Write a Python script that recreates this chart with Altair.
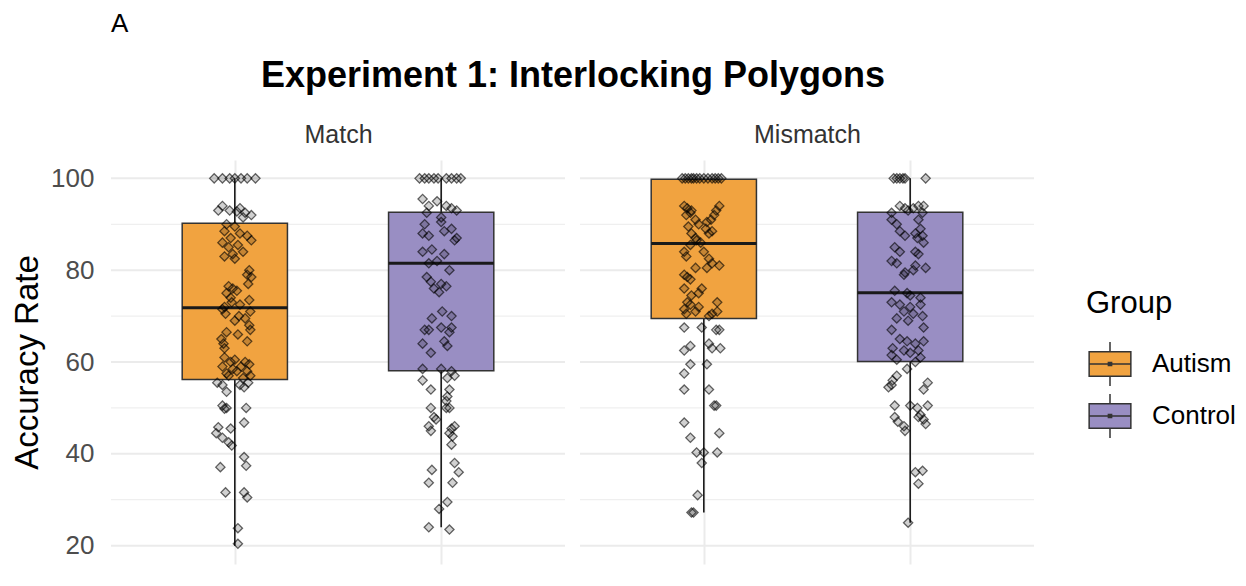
import altair as alt
import pandas as pd

# ---- box statistics ----
box_condition = ["Match", "Match", "Mismatch", "Mismatch"]
box_group = ["Autism", "Control", "Autism", "Control"]
box_lower = [20.0, 24.0, 27.2, 25.0]
box_q1 = [56.2, 58.1, 69.5, 60.1]
box_median = [71.8, 81.5, 85.8, 75.1]
box_q3 = [90.2, 92.6, 99.8, 92.6]
box_upper = [100.0, 100.0, 100.0, 100.0]

# ---- individual participants (value, horizontal jitter in category units) ----
match_autism_values = [
    100, 100, 100, 100, 100, 100, 100,
    94, 93, 93.5, 92.5, 92, 93, 92.8, 91.5,
    90, 89.5, 88.5, 88, 87.5, 87, 86.5, 86, 85.5, 85, 84, 83.5, 83, 82.5,
    80, 79, 78.5, 77,
    76.5, 76, 75.5, 75, 74, 73.5, 73, 72.5, 72, 71.5, 71, 70.5, 70,
    69.5, 69, 68, 67, 66.5, 66, 65, 64.5, 64, 63,
    61, 60.5, 60, 60, 59.5, 59, 59, 58.5, 58, 58, 57.5, 57, 57, 56.5,
    55.5, 55, 55, 55.5, 54.5, 53.5,
    50.5, 50, 50, 49.8,
    46.8,
    45.8, 45.5, 44.5, 43.5, 42.5, 41.8,
    39.3, 37.4, 37.1,
    31.6, 31.6, 30.5,
    23.8, 20.4,
]
match_autism_jitter = [
    -0.10, -0.06, -0.025, 0.0, 0.03, 0.06, 0.10,
    -0.06, -0.025, 0.025, 0.05, 0.08, -0.08, 0.01, 0.04,
    -0.04, 0.0, -0.05, 0.025, 0.06, -0.02, 0.08, -0.06, 0.015, -0.03, 0.04, -0.01, -0.05, 0.0,
    0.07, 0.06, 0.08, 0.065,
    -0.03, -0.01, 0.01, -0.04, -0.02, 0.07, -0.015, 0.025, -0.05, -0.06, 0.075, -0.045, 0.02,
    0.05, 0.0, 0.07, 0.075, -0.04, 0.015, -0.065, 0.06, -0.055, -0.05,
    -0.05, 0.0, 0.05, -0.02, 0.07, -0.06, 0.03, -0.01, 0.06, 0.01, -0.04, 0.075, -0.03, 0.04,
    -0.085, -0.06, 0.025, 0.065, 0.045, -0.04,
    -0.06, -0.04, 0.055, -0.05,
    0.045,
    -0.08, -0.02, -0.09, -0.06, -0.03, -0.015,
    0.045, 0.055, -0.07,
    -0.045, 0.045, 0.06,
    0.015, 0.015,
]

match_control_values = [
    100, 100, 100, 100, 100, 100, 100, 100, 100,
    95.5, 94, 95, 94, 93.5, 93, 92.5, 91.5,
    90, 90.5, 89, 88, 87.5, 88.5, 86.5, 87,
    84, 84.5, 83.5, 82, 81.5,
    80, 78.5, 77.5, 77, 76.5, 76, 75.2,
    71, 70, 69.5,
    67, 67, 67.5, 67.5, 66.5,
    64, 64.5, 63.5,
    62,
    58.5, 58.5, 58, 57,
    56, 56.5,
    54, 54,
    52.5, 51.5,
    50, 50, 50,
    48, 47.5, 46, 45, 46, 45.5, 44.5, 43.8,
    42,
    38, 36.5, 36,
    33.7, 33.7,
    29.5, 28,
    24, 23.5,
]
match_control_jitter = [
    -0.105, -0.08, -0.06, -0.035, -0.015, 0.025, 0.05, 0.075, 0.095,
    -0.09, -0.06, -0.02, 0.025, 0.05, 0.075, -0.07, 0.0,
    -0.08, 0.0, 0.05, -0.09, -0.06, 0.015, 0.065, 0.075,
    -0.09, -0.045, 0.015, -0.02, -0.06,
    0.04, -0.07, -0.05, 0.0, 0.025, -0.035, -0.01,
    0.005, 0.05, -0.045,
    -0.08, -0.06, 0.0, 0.05, 0.04,
    -0.09, 0.015, 0.03,
    -0.05,
    -0.09, 0.0, 0.05, 0.065,
    -0.09, 0.03,
    -0.05, 0.04,
    0.03, 0.025,
    -0.05, 0.025, 0.04,
    -0.035, -0.025, -0.06, -0.05, 0.065, 0.05, 0.04, 0.055,
    0.05,
    0.065, -0.045, 0.085,
    -0.06, 0.055,
    0.03, -0.01,
    -0.06, 0.04,
]

mismatch_autism_values = [
    100, 100, 100, 100, 100, 100, 100, 100, 100, 100, 100, 100, 100,
    94, 93.5, 93, 92, 92.5, 94, 93, 92, 91, 90.5, 91,
    89.5, 90, 89, 88.5, 88,
    88, 87, 86.5, 86, 85.5,
    84, 83, 84, 82.5, 81.5, 80.5, 81, 80.5,
    79, 78.5, 78,
    76, 76, 74.5, 75, 73, 72.5, 71.5, 70.5, 73, 71, 70.5, 70, 71, 72,
    67.5, 67.5, 67, 67,
    62.5, 63.5, 64, 63, 63,
    59.5, 57.5, 59.5,
    54, 54,
    50.5, 50.5,
    46.8,
    43.5, 44.5,
    40.3, 40.3, 40.3,
    38,
    31,
    27.2, 27.2,
]
mismatch_autism_jitter = [
    -0.105, -0.09, -0.075, -0.06, -0.05, -0.035, -0.02, 0.0, 0.02, 0.04, 0.055, 0.07, 0.085,
    -0.095, -0.08, -0.06, -0.085, -0.065, 0.075, 0.06, 0.05, 0.035, 0.015, -0.04,
    -0.075, -0.025, 0.01, 0.04, 0.025,
    -0.06, -0.04, -0.035, -0.015, -0.065,
    -0.095, -0.085, 0.0, 0.025, 0.04, 0.015, 0.075, -0.04,
    -0.095, -0.08, -0.065,
    -0.095, -0.01, -0.06, -0.025, -0.08, -0.065, -0.095, -0.085, 0.065, 0.065, 0.04, 0.025, -0.04, -0.025,
    -0.095, -0.01, 0.06, 0.075,
    -0.095, -0.065, 0.025, 0.04, 0.08,
    -0.065, -0.095, 0.015,
    -0.095, 0.025,
    0.06, 0.05,
    -0.095,
    -0.065, 0.075,
    -0.035, 0.0, 0.065,
    -0.01,
    -0.03,
    -0.06, -0.05,
]

mismatch_control_values = [
    100, 100, 100, 100, 100, 100,
    94, 93.5, 93.5, 94, 94, 92.5, 93, 92.5,
    91, 90, 91, 89, 88.5, 87.5, 88, 87.5, 87,
    86, 85, 84, 84, 83.5, 82, 81.5, 81, 80.5, 79.5, 80,
    79,
    75.5, 75, 74.5, 74, 73, 72.5, 72, 72.5, 71, 70.5, 70, 69.5, 69,
    67, 67.5,
    65, 64.5, 64, 64.5, 63, 62.5, 62, 62.5, 61.5, 61,
    60.5, 60,
    58.5, 57, 56, 55, 54.5, 55.5, 54,
    50.5, 50.5, 50, 50.5,
    48, 47, 46, 45, 48, 47.5, 46.5, 48.5,
    36, 36.3, 33.5,
    25,
]
mismatch_control_jitter = [
    -0.08, -0.065, -0.05, -0.035, -0.025, 0.075,
    -0.05, -0.025, 0.015, 0.04, 0.065, -0.09, -0.01, 0.06,
    -0.09, -0.065, 0.04, 0.05, -0.05, -0.025, 0.025, 0.06, 0.035,
    0.065, -0.075, -0.05, 0.025, 0.04, -0.09, -0.065, 0.025, 0.075, -0.025, 0.015,
    -0.03,
    -0.075, -0.015, 0.0, 0.05, -0.09, -0.05, 0.0, 0.05, -0.03, 0.015, 0.06, -0.065, -0.01,
    -0.09, 0.065,
    -0.05, -0.015, 0.025, 0.065, -0.085, -0.03, 0.0, 0.04, -0.09, 0.05,
    -0.065, 0.025,
    -0.015, -0.065, -0.085, -0.09, -0.105, 0.085, 0.065,
    -0.075, 0.0, 0.035, 0.085,
    -0.075, -0.06, -0.03, -0.025, 0.04, 0.065, 0.075, 0.05,
    0.025, 0.06, 0.04,
    -0.01,
]

conditions = ["Match", "Mismatch"]
group_names = ["Autism", "Control"]
group_colors = ["#F1A340", "#998EC3"]
grid_values = [20, 30, 40, 50, 60, 70, 80, 90, 100]

# ---- layout (two side-by-side panels on one continuous x scale) ----
PANEL_W = 454          # px per panel
GAP_PX = 15            # px between panels
EXPAND = 0.6           # ggplot discrete expansion on each side
UNIT = PANEL_W / (2 + 2 * EXPAND - 1)   # px per category step
PANEL_SPAN = 1 + 2 * EXPAND            # category units per panel
SHIFT = PANEL_SPAN + GAP_PX / UNIT     # offset of 2nd panel in data units
X_MIN = 1 - EXPAND
X_MAX = X_MIN + SHIFT + PANEL_SPAN
PLOT_W = round((X_MAX - X_MIN) * UNIT)
PLOT_H = 404
HALF_BOX = 0.255

cond_shift = {c: i * SHIFT for i, c in enumerate(conditions)}

box_df = pd.DataFrame(dict(condition=box_condition, group=box_group, lower=box_lower,
                           q1=box_q1, med=box_median, q3=box_q3, upper=box_upper))
box_df["xpos"] = [group_names.index(g) + 1 + cond_shift[c]
                  for c, g in zip(box_condition, box_group)]

pt_rows = []
for c, g, vals, jit in [
    ("Match", "Autism", match_autism_values, match_autism_jitter),
    ("Match", "Control", match_control_values, match_control_jitter),
    ("Mismatch", "Autism", mismatch_autism_values, mismatch_autism_jitter),
    ("Mismatch", "Control", mismatch_control_values, mismatch_control_jitter),
]:
    base_x = group_names.index(g) + 1 + cond_shift[c]
    for v, j in zip(vals, jit):
        pt_rows.append(dict(condition=c, group=g, value=v, xpos=base_x, jitter=j))
pt_df = pd.DataFrame(pt_rows)

grid_df = pd.DataFrame([
    dict(v=v, x0=X_MIN + cond_shift[c], x1=X_MIN + cond_shift[c] + PANEL_SPAN)
    for c in conditions for v in grid_values
])

FONT = "Liberation Sans"
xscale = alt.Scale(domain=[X_MIN, X_MAX], nice=False, zero=False)
yscale = alt.Scale(domain=[16, 104], nice=False, zero=False)

cat_centers = [1 + cond_shift[c] + i for c in conditions for i in range(2)]
panel_centers = [1.5 + cond_shift[c] for c in conditions]

x_bottom = alt.Axis(
    values=cat_centers, orient="bottom",
    labelExpr=f"((datum.value - {X_MIN}) % {SHIFT}) < 1.1 ? 'Autism' : 'Control'",
    title=None, ticks=False, tickSize=0, domain=False,
    grid=True, gridColor="#EBEBEB", gridWidth=2,
    labelFontSize=26, labelColor="#4D4D4D", labelPadding=7,
    labelBaseline="top", labelFont=FONT,
)
x_top = alt.Axis(
    values=panel_centers, orient="top",
    labelExpr=f"datum.value < {1.5 + SHIFT / 2} ? 'Match' : 'Mismatch'",
    title="Experiment 1: Interlocking Polygons", titleFontSize=36,
    titleFontWeight="bold", titleColor="#000000", titleFont=FONT, titlePadding=28,
    ticks=False, tickSize=0, domain=False, grid=False,
    labelFontSize=25, labelColor="#333333", labelPadding=13, labelFont=FONT,
)
y_axis = alt.Axis(
    values=grid_values,
    labelExpr="datum.value % 20 == 0 ? datum.label : ''",
    title="Accuracy Rate", titleFontSize=33, titleFontWeight="normal",
    titleColor="#000000", titleFont=FONT, titlePadding=6,
    ticks=False, tickSize=0, domain=False, grid=False,
    labelFontSize=26, labelColor="#4D4D4D", labelPadding=17, labelFont=FONT,
)

gridlines = alt.Chart(grid_df).mark_rule(color="#EBEBEB").encode(
    x=alt.X("x0:Q", scale=xscale, axis=x_bottom),
    x2="x1:Q",
    y=alt.Y("v:Q", scale=yscale, axis=y_axis),
    strokeWidth=alt.StrokeWidth("w:Q", scale=None),
).transform_calculate(w="datum.v % 20 == 0 ? 2 : 1")

whisker = alt.Chart(box_df).mark_rule(color="#1A1A1A", strokeWidth=1.6).encode(
    x=alt.X("xpos:Q", scale=xscale, axis=x_top),
    y=alt.Y("lower:Q", scale=yscale),
    y2="upper:Q",
)

legend_symbol = ("M-0.91,-0.54H0.91V0.54H-0.91Z M-0.91,0H0.91 "
                 "M0,-0.54V-0.96 M0,0.54V0.96 M-0.07,-0.07H0.07V0.07H-0.07Z")

box = alt.Chart(box_df).mark_rect(stroke="#333333", strokeWidth=1.5).encode(
    x=alt.X("xl:Q", scale=xscale, axis=None),
    x2="xr:Q",
    y=alt.Y("q1:Q", scale=yscale),
    y2="q3:Q",
    fill=alt.Fill(
        "group:N",
        scale=alt.Scale(domain=group_names, range=group_colors),
        legend=alt.Legend(
            title="Group", titleFontSize=31, titleFontWeight="normal",
            titleColor="#000000", titleFont=FONT, titlePadding=20,
            labelFontSize=26, labelColor="#000000", labelFont=FONT,
            symbolType=legend_symbol, symbolSize=2100,
            symbolStrokeColor="#333333", symbolStrokeWidth=1.5,
            symbolOpacity=1, rowPadding=2, labelOffset=18,
            orient="none", legendX=975, legendY=129,
        ),
    ),
).transform_calculate(
    xl=f"datum.xpos - {HALF_BOX}", xr=f"datum.xpos + {HALF_BOX}"
)

median = alt.Chart(box_df).mark_rule(color="#1A1A1A", strokeWidth=3).encode(
    x=alt.X("xl:Q", scale=xscale, axis=None),
    x2="xr:Q",
    y=alt.Y("med:Q", scale=yscale),
).transform_calculate(
    xl=f"datum.xpos - {HALF_BOX}", xr=f"datum.xpos + {HALF_BOX}"
)

points = alt.Chart(pt_df).mark_point(
    shape="diamond", size=85, filled=False, stroke="#000000",
    strokeOpacity=0.6, strokeWidth=1.3, fill="#000000", fillOpacity=0.18,
).encode(
    x=alt.X("xj:Q", scale=xscale, axis=None),
    y=alt.Y("value:Q", scale=yscale),
).transform_calculate(xj="datum.xpos + datum.jitter")

chart = alt.layer(gridlines, whisker, box, median, points).resolve_axis(
    x="independent"
).properties(
    width=PLOT_W, height=PLOT_H,
    title=alt.TitleParams("A", fontSize=26, fontWeight="normal", font=FONT,
                          color="#000000", anchor="start", frame="group",
                          offset=20),
    autosize=alt.AutoSizeParams(type="none"),
    padding={"left": 103, "top": 152, "right": 1230 - 103 - PLOT_W, "bottom": 10},
).configure(font=FONT, view=alt.ViewConfig(stroke=None))

chart.save("out.html", embed_options={"renderer": "svg", "actions": False})
